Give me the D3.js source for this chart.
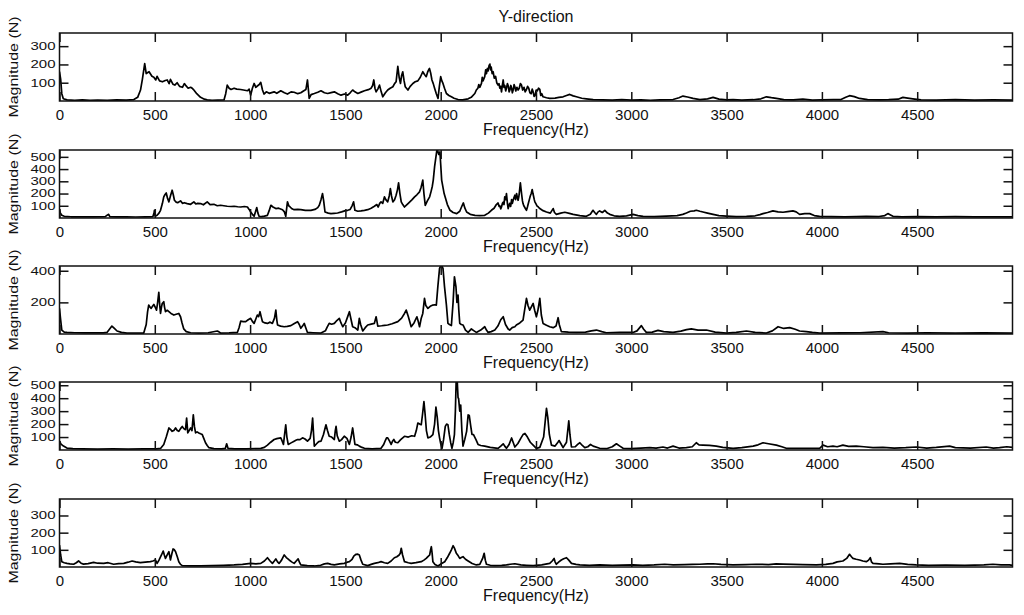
<!DOCTYPE html>
<html>
<head>
<meta charset="utf-8">
<script src="https://cdn.jsdelivr.net/npm/d3@7"></script>
<style>
  html, body { margin: 0; padding: 0; background: #ffffff; }
  svg { display: block; }
  text { font-family: "Liberation Sans", Arial, sans-serif; fill: #111; }
</style>
</head>
<body>
<svg id="chart" width="1024" height="615"></svg>
<script>
// ---------- DATA ----------
const chartTitle = "Y-direction";
const xLabel = "Frequency(Hz)";
const yLabel = "Magnitude (N)";
const xTicks = [0, 500, 1000, 1500, 2000, 2500, 3000, 3500, 4000, 4500];
const xMax = 5000;

const yTicks1 = [100, 200, 300];
const yTicks2 = [100, 200, 300, 400, 500];
const yTicks3 = [200, 400];
const yTicks4 = [100, 200, 300, 400, 500];
const yTicks5 = [100, 200, 300];

const yMax1 = 372, yMax2 = 556, yMax3 = 430, yMax4 = 525, yMax5 = 396;

// [frequency (Hz), magnitude (N)]
const spectrum1 = [[0,160],[6,120],[12,40],[20,12],[40,6],[80,4],[120,6],[160,4],[200,5],[250,4],[300,6],[350,5],[390,8],[410,20],[425,60],[435,120],[447,205],[455,150],[470,160],[485,135],[495,130],[505,115],[512,135],[525,110],[540,105],[555,112],[565,115],[575,95],[582,118],[595,92],[605,87],[617,100],[630,80],[645,75],[655,95],[661,87],[675,70],[688,75],[698,68],[705,60],[720,40],[740,20],[760,10],[775,6],[800,4],[830,5],[863,6],[872,40],[880,87],[890,70],[900,63],[916,70],[930,65],[950,63],[965,60],[986,56],[995,65],[1003,32],[1012,70],[1021,96],[1030,75],[1038,82],[1048,90],[1056,102],[1065,60],[1073,38],[1085,50],[1100,42],[1126,50],[1140,42],[1161,56],[1180,45],[1196,38],[1215,50],[1231,48],[1250,40],[1266,45],[1280,55],[1293,63],[1301,115],[1306,60],[1310,14],[1320,35],[1337,41],[1355,48],[1372,56],[1390,45],[1407,41],[1425,46],[1442,50],[1460,40],[1477,32],[1495,38],[1512,32],[1525,45],[1538,60],[1550,50],[1565,41],[1585,50],[1600,56],[1620,62],[1635,70],[1643,85],[1649,115],[1655,70],[1661,50],[1670,65],[1679,87],[1688,50],[1696,23],[1710,45],[1722,60],[1735,70],[1749,78],[1758,95],[1766,105],[1775,190],[1782,130],[1789,96],[1795,140],[1801,160],[1808,110],[1814,78],[1828,60],[1840,80],[1854,96],[1866,105],[1880,110],[1893,130],[1906,160],[1915,145],[1924,133],[1932,160],[1941,178],[1948,150],[1954,115],[1961,95],[1968,70],[1977,40],[1986,14],[1993,80],[2000,133],[2006,110],[2012,96],[2020,70],[2030,41],[2043,30],[2056,23],[2070,15],[2091,8],[2115,6],[2144,12],[2160,20],[2179,41],[2187,60],[2195,70],[2200,90],[2205,75],[2214,96],[2218,130],[2222,110],[2231,133],[2236,170],[2240,150],[2245,178],[2249,165],[2254,195],[2258,202],[2262,170],[2265,185],[2270,150],[2275,160],[2281,125],[2288,135],[2294,100],[2301,87],[2306,95],[2310,70],[2315,80],[2319,50],[2324,90],[2328,115],[2332,75],[2336,85],[2341,55],[2345,70],[2350,95],[2355,80],[2359,50],[2363,60],[2368,85],[2372,70],[2376,45],[2380,60],[2385,90],[2389,78],[2394,55],[2400,75],[2406,60],[2412,70],[2418,95],[2424,87],[2430,60],[2437,75],[2443,50],[2450,63],[2456,80],[2462,70],[2468,45],[2475,40],[2480,65],[2485,50],[2490,25],[2495,30],[2501,60],[2507,55],[2513,70],[2520,63],[2525,30],[2530,40],[2537,23],[2555,18],[2572,14],[2600,16],[2620,20],[2642,23],[2660,30],[2677,36],[2695,28],[2712,23],[2740,15],[2764,12],[2800,8],[2850,6],[2900,5],[2950,7],[3000,5],[3050,6],[3100,4],[3150,6],[3219,8],[3250,18],[3271,27],[3295,22],[3324,14],[3360,8],[3400,12],[3429,20],[3460,10],[3500,6],[3534,8],[3580,5],[3640,7],[3680,12],[3709,23],[3735,18],[3761,14],[3800,8],[3850,6],[3900,10],[3950,5],[4000,6],[4060,7],[4100,8],[4125,20],[4145,29],[4170,24],[4197,14],[4240,8],[4300,6],[4350,7],[4400,10],[4425,20],[4450,16],[4477,12],[4520,6],[4600,5],[4700,7],[4800,5],[4900,6],[5000,5]];

const spectrum2 = [[0,63],[5,40],[12,22],[25,14],[60,10],[120,9],[180,10],[240,11],[252,25],[258,30],[264,12],[300,9],[350,10],[400,8],[450,10],[490,12],[496,40],[498,63],[502,15],[512,22],[522,40],[530,63],[540,120],[547,173],[553,190],[560,205],[567,160],[574,132],[582,180],[591,227],[597,190],[603,145],[612,130],[620,125],[635,140],[645,120],[655,125],[670,118],[688,112],[705,132],[715,115],[725,120],[740,118],[755,108],[775,132],[790,110],[810,112],[828,100],[845,104],[862,100],[880,96],[900,94],[916,96],[935,92],[951,90],[970,94],[986,90],[995,70],[1003,49],[1012,30],[1021,14],[1028,50],[1035,85],[1041,40],[1047,14],[1060,12],[1075,15],[1091,22],[1100,60],[1109,104],[1120,90],[1135,77],[1150,80],[1170,68],[1180,50],[1187,14],[1192,80],[1196,132],[1203,100],[1210,90],[1220,75],[1231,68],[1250,70],[1266,68],[1290,62],[1319,63],[1340,70],[1355,85],[1363,104],[1372,150],[1380,200],[1386,140],[1393,49],[1410,40],[1424,36],[1440,38],[1459,41],[1480,50],[1500,60],[1512,63],[1525,70],[1535,100],[1543,132],[1550,63],[1565,55],[1582,58],[1600,62],[1617,68],[1635,80],[1652,96],[1665,110],[1672,90],[1680,120],[1687,132],[1696,120],[1705,173],[1712,150],[1722,132],[1730,180],[1736,241],[1742,180],[1749,132],[1758,150],[1766,186],[1773,230],[1779,288],[1786,200],[1793,132],[1801,110],[1810,90],[1820,105],[1830,120],[1838,132],[1850,150],[1863,173],[1875,190],[1889,214],[1897,250],[1906,310],[1912,200],[1919,104],[1930,140],[1942,173],[1950,220],[1956,260],[1961,310],[1968,420],[1975,500],[1980,556],[1983,556],[1990,520],[1996,540],[2000,440],[2005,310],[2012,250],[2018,200],[2023,173],[2035,110],[2049,63],[2065,45],[2084,36],[2100,55],[2112,100],[2119,123],[2127,80],[2136,49],[2155,30],[2180,22],[2205,20],[2231,22],[2250,40],[2266,63],[2280,80],[2292,110],[2301,123],[2306,95],[2310,100],[2315,75],[2319,90],[2324,120],[2328,130],[2332,110],[2336,173],[2341,150],[2345,200],[2350,120],[2354,77],[2358,100],[2362,120],[2367,95],[2372,150],[2376,120],[2380,145],[2385,170],[2389,186],[2393,150],[2398,200],[2402,170],[2406,145],[2410,175],[2412,200],[2418,288],[2422,230],[2425,190],[2429,140],[2432,118],[2436,100],[2440,90],[2445,75],[2450,63],[2455,90],[2460,120],[2465,150],[2470,180],[2475,200],[2480,233],[2484,200],[2487,180],[2491,150],[2494,132],[2500,115],[2505,100],[2512,90],[2520,77],[2537,60],[2555,49],[2575,40],[2590,77],[2597,45],[2607,30],[2630,40],[2651,47],[2675,38],[2695,30],[2730,20],[2764,14],[2785,30],[2799,63],[2808,45],[2817,30],[2826,50],[2834,58],[2848,45],[2861,63],[2875,40],[2887,30],[2910,18],[2939,14],[2975,18],[3009,30],[3035,20],[3062,14],[3120,12],[3184,16],[3240,20],[3270,30],[3289,41],[3310,55],[3330,58],[3341,63],[3360,55],[3376,49],[3400,40],[3429,30],[3460,20],[3499,16],[3550,12],[3604,14],[3650,18],[3675,28],[3691,36],[3715,45],[3743,58],[3770,50],[3796,47],[3820,52],[3848,58],[3865,50],[3883,30],[3910,35],[3936,36],[3960,20],[3988,14],[4050,12],[4120,10],[4180,12],[4233,14],[4300,12],[4330,20],[4346,36],[4360,25],[4373,14],[4420,10],[4500,12],[4600,10],[4700,11],[4800,9],[4900,10],[5000,9]];

const spectrum3 = [[0,162],[5,100],[12,25],[25,12],[39,10],[80,8],[130,7],[180,8],[230,7],[249,10],[262,30],[275,50],[288,35],[302,19],[325,10],[354,6],[400,6],[442,6],[455,60],[462,140],[468,183],[475,170],[481,162],[488,175],[495,187],[502,170],[509,151],[515,200],[521,263],[526,180],[530,130],[535,170],[539,193],[547,204],[551,170],[556,141],[565,150],[574,141],[585,130],[600,120],[612,125],[626,130],[630,120],[635,109],[643,70],[652,32],[665,15],[688,8],[730,6],[780,8],[828,19],[838,12],[845,6],[890,7],[933,10],[942,40],[951,82],[963,78],[977,78],[990,90],[1003,99],[1012,80],[1021,67],[1030,95],[1038,120],[1045,110],[1052,141],[1058,110],[1065,78],[1078,70],[1091,67],[1105,75],[1117,67],[1128,100],[1135,151],[1140,90],[1144,57],[1160,50],[1179,46],[1195,48],[1214,53],[1230,65],[1249,78],[1258,60],[1266,36],[1275,50],[1284,67],[1292,40],[1301,10],[1330,8],[1372,6],[1395,20],[1405,45],[1415,67],[1428,62],[1442,67],[1455,85],[1468,99],[1477,70],[1486,46],[1500,70],[1512,110],[1521,141],[1530,90],[1538,46],[1550,40],[1565,25],[1573,99],[1580,60],[1591,19],[1604,40],[1617,57],[1635,62],[1652,67],[1661,109],[1667,70],[1670,50],[1690,52],[1705,55],[1722,57],[1745,65],[1775,78],[1795,100],[1810,130],[1819,151],[1830,110],[1845,46],[1860,70],[1875,109],[1882,80],[1889,46],[1898,100],[1906,130],[1915,225],[1922,180],[1933,162],[1945,175],[1959,183],[1968,185],[1977,183],[1985,300],[1994,415],[2000,430],[2006,430],[2012,415],[2020,300],[2030,183],[2038,67],[2046,60],[2056,53],[2065,200],[2072,362],[2080,300],[2085,200],[2091,246],[2095,150],[2100,67],[2108,60],[2117,57],[2130,25],[2144,10],[2161,32],[2175,20],[2187,10],[2210,25],[2231,46],[2240,25],[2249,10],[2265,15],[2284,25],[2300,50],[2315,90],[2328,109],[2340,60],[2354,32],[2362,25],[2375,40],[2389,46],[2397,57],[2415,70],[2432,88],[2440,150],[2450,225],[2458,180],[2467,151],[2475,170],[2485,193],[2493,150],[2502,109],[2510,150],[2520,225],[2528,120],[2537,67],[2555,55],[2572,46],[2590,40],[2605,50],[2616,103],[2622,60],[2633,15],[2670,12],[2712,10],[2760,12],[2790,20],[2817,25],[2845,15],[2869,8],[2940,10],[3009,10],[3030,20],[3053,53],[3065,30],[3079,10],[3110,12],[3140,23],[3170,15],[3219,10],[3260,18],[3290,28],[3315,32],[3350,25],[3394,25],[3440,12],[3499,6],[3550,10],[3604,19],[3650,10],[3709,6],[3740,20],[3770,46],[3800,35],[3831,40],[3860,30],[3883,19],[3918,15],[3950,10],[3988,6],[4100,7],[4200,8],[4320,15],[4350,8],[4450,6],[4550,8],[4700,5],[4850,7],[5000,5]];

const spectrum4 = [[0,68],[8,45],[21,30],[39,15],[70,10],[120,8],[200,7],[280,8],[360,7],[440,8],[510,8],[530,12],[547,43],[560,100],[574,170],[582,160],[591,144],[600,150],[609,170],[618,150],[626,144],[635,165],[644,182],[652,165],[661,157],[667,246],[673,132],[680,150],[688,170],[695,150],[702,271],[708,180],[714,132],[722,140],[731,132],[740,125],[749,119],[757,90],[766,56],[775,35],[784,18],[810,10],[850,8],[870,12],[877,48],[884,13],[920,8],[980,9],[1056,13],[1075,20],[1091,38],[1108,60],[1126,81],[1140,88],[1161,94],[1168,70],[1175,43],[1181,120],[1187,195],[1193,100],[1200,43],[1215,55],[1231,68],[1240,75],[1249,81],[1262,80],[1275,94],[1288,85],[1301,68],[1315,90],[1322,150],[1328,246],[1333,120],[1337,30],[1350,50],[1360,65],[1372,68],[1385,120],[1398,195],[1406,150],[1415,106],[1428,100],[1442,81],[1447,150],[1451,182],[1457,110],[1468,68],[1480,80],[1494,106],[1508,90],[1521,43],[1530,100],[1538,170],[1544,110],[1550,43],[1562,40],[1573,30],[1587,20],[1600,13],[1640,8],[1687,13],[1700,40],[1710,75],[1716,93],[1722,94],[1731,70],[1740,43],[1748,70],[1754,81],[1762,60],[1775,56],[1790,80],[1810,106],[1830,100],[1848,110],[1863,106],[1872,150],[1880,208],[1890,200],[1898,195],[1905,280],[1912,373],[1918,280],[1925,150],[1933,94],[1945,100],[1959,119],[1968,200],[1975,332],[1982,250],[1988,150],[1994,94],[2000,50],[2007,13],[2015,80],[2024,182],[2031,200],[2038,195],[2045,120],[2052,60],[2059,13],[2066,60],[2072,119],[2077,300],[2081,525],[2087,525],[2091,403],[2094,397],[2100,300],[2105,347],[2111,150],[2117,30],[2126,80],[2136,144],[2144,271],[2150,266],[2158,180],[2164,120],[2172,119],[2185,80],[2196,43],[2210,35],[2231,30],[2260,20],[2301,13],[2315,30],[2328,48],[2336,30],[2345,13],[2358,40],[2372,93],[2380,60],[2389,23],[2405,50],[2420,90],[2432,119],[2442,128],[2455,100],[2470,60],[2485,38],[2502,13],[2520,20],[2540,100],[2555,322],[2562,250],[2570,120],[2581,38],[2600,30],[2615,60],[2621,73],[2630,50],[2642,18],[2660,60],[2672,225],[2678,120],[2686,23],[2705,25],[2720,45],[2730,56],[2743,35],[2756,18],[2772,25],[2786,43],[2800,30],[2834,13],[2870,10],[2900,25],[2922,48],[2940,30],[2957,13],[3000,10],[3050,14],[3097,18],[3130,15],[3166,23],[3190,15],[3219,30],[3250,15],[3289,18],[3320,25],[3341,56],[3355,40],[3376,38],[3410,35],[3446,30],[3480,20],[3534,13],[3580,18],[3639,30],[3665,40],[3691,56],[3720,48],[3761,38],[3790,25],[3813,13],[3880,12],[3950,13],[3988,13],[4006,38],[4030,25],[4058,30],[4080,25],[4110,38],[4140,28],[4180,30],[4220,25],[4268,18],[4320,20],[4380,15],[4440,18],[4495,23],[4550,15],[4600,20],[4670,30],[4700,18],[4780,15],[4862,23],[4900,15],[4932,18],[4970,25],[5000,20]];

const spectrum5 = [[0,128],[6,70],[12,31],[25,25],[39,21],[55,18],[74,16],[88,25],[100,35],[113,22],[126,17],[150,20],[179,27],[200,22],[232,21],[255,25],[284,16],[310,20],[337,21],[360,28],[381,35],[400,30],[424,25],[450,28],[477,31],[490,35],[503,41],[512,21],[522,40],[535,70],[544,93],[550,70],[556,50],[565,70],[574,89],[582,41],[590,80],[596,105],[603,100],[609,89],[618,60],[626,31],[635,15],[644,8],[680,6],[740,6],[800,8],[860,10],[916,12],[960,15],[1003,21],[1030,18],[1056,21],[1075,35],[1091,54],[1105,35],[1117,21],[1127,35],[1135,47],[1144,30],[1152,21],[1165,40],[1179,70],[1190,55],[1205,41],[1218,30],[1231,21],[1242,35],[1252,47],[1260,25],[1266,12],[1300,8],[1337,6],[1370,10],[1390,18],[1407,21],[1425,15],[1442,12],[1470,18],[1494,21],[1510,28],[1521,31],[1535,45],[1545,65],[1556,74],[1565,75],[1573,70],[1582,40],[1591,16],[1617,8],[1635,15],[1652,21],[1670,25],[1687,31],[1705,25],[1722,21],[1740,35],[1757,54],[1770,60],[1782,70],[1788,80],[1793,109],[1800,70],[1810,31],[1830,25],[1845,21],[1870,25],[1898,31],[1912,40],[1924,50],[1933,60],[1942,70],[1947,100],[1951,118],[1955,80],[1959,31],[1970,15],[1986,6],[2005,20],[2021,31],[2035,55],[2047,80],[2056,100],[2065,124],[2072,110],[2082,80],[2092,65],[2100,50],[2108,55],[2117,60],[2130,45],[2144,35],[2165,20],[2187,12],[2205,15],[2220,50],[2228,80],[2234,40],[2240,16],[2260,10],[2284,8],[2320,10],[2345,12],[2365,16],[2389,19],[2420,12],[2450,10],[2485,8],[2530,12],[2572,21],[2585,35],[2595,50],[2600,30],[2607,16],[2620,30],[2633,41],[2645,48],[2660,54],[2672,40],[2686,21],[2710,15],[2730,12],[2780,10],[2834,12],[2900,10],[2950,11],[3009,12],[3060,10],[3120,12],[3175,16],[3220,12],[3280,14],[3320,15],[3359,16],[3400,18],[3429,19],[3470,15],[3534,12],[3600,14],[3656,16],[3720,14],[3760,18],[3796,17],[3850,15],[3900,14],[3971,12],[4020,15],[4058,21],[4080,30],[4110,35],[4130,50],[4145,74],[4155,60],[4163,50],[4180,45],[4198,41],[4215,35],[4233,31],[4245,40],[4254,54],[4260,30],[4268,21],[4300,18],[4320,16],[4360,18],[4408,21],[4450,15],[4495,12],[4560,10],[4650,11],[4750,10],[4850,12],[4897,16],[4940,12],[4984,12],[5000,10]];

// ---------- LAYOUT ----------
const svg = d3.select("#chart");
const left = 59.5, right = 1012.5;
const panelTops = [33, 150, 266, 382, 499];
const panelH = 68;

const panels = [
  { data: spectrum1, yMax: yMax1, ticks: yTicks1 },
  { data: spectrum2, yMax: yMax2, ticks: yTicks2 },
  { data: spectrum3, yMax: yMax3, ticks: yTicks3 },
  { data: spectrum4, yMax: yMax4, ticks: yTicks4 },
  { data: spectrum5, yMax: yMax5, ticks: yTicks5 }
];

const x = d3.scaleLinear().domain([0, xMax]).range([left, right]);

svg.append("text")
  .attr("x", 536).attr("y", 22)
  .attr("text-anchor", "middle")
  .style("font-size", "16px")
  .text(chartTitle);

panels.forEach((p, i) => {
  const top = panelTops[i], bottom = top + panelH;
  const y = d3.scaleLinear().domain([0, p.yMax]).range([bottom, top]);
  const g = svg.append("g");

  const clipId = "clip" + i;
  svg.append("clipPath").attr("id", clipId)
    .append("rect").attr("x", left).attr("y", top)
    .attr("width", right - left).attr("height", panelH);

  const line = d3.line().x(d => x(d[0])).y(d => y(d[1]));
  g.append("path")
    .datum(p.data)
    .attr("clip-path", `url(#${clipId})`)
    .attr("d", line)
    .attr("fill", "none")
    .attr("stroke", "#000")
    .attr("stroke-width", 1.7)
    .attr("stroke-linejoin", "round");

  const gb = g.append("g").attr("transform", `translate(0,${bottom})`)
    .call(d3.axisBottom(x).tickValues(xTicks).tickSize(-9).tickPadding(8).tickFormat(d3.format("d")));
  const gt = g.append("g").attr("transform", `translate(0,${top})`)
    .call(d3.axisTop(x).tickValues(xTicks).tickSize(-9).tickFormat(""));
  const gl = g.append("g").attr("transform", `translate(${left},0)`)
    .call(d3.axisLeft(y).tickValues(p.ticks).tickSize(-9).tickPadding(4).tickFormat(d3.format("d")));
  const gr = g.append("g").attr("transform", `translate(${right},0)`)
    .call(d3.axisRight(y).tickValues(p.ticks).tickSize(-9).tickFormat(""));

  [gb, gt, gl, gr].forEach(a => {
    a.select(".domain").remove();
    a.selectAll(".tick line").attr("stroke", "#111").attr("stroke-width", 1.5);
    a.selectAll(".tick text")
      .style("font-family", '"Liberation Sans", Arial, sans-serif')
      .style("font-size", "15px").attr("fill", "#111");
  });
  // y tick labels are vertically condensed in the reference
  gl.selectAll(".tick text").attr("transform", "scale(1,0.72)");

  g.append("rect")
    .attr("x", left).attr("y", top)
    .attr("width", right - left).attr("height", panelH)
    .attr("fill", "none").attr("stroke", "#111").attr("stroke-width", 1.5);

  g.append("text")
    .attr("x", 536).attr("y", bottom + 34)
    .attr("text-anchor", "middle")
    .style("font-size", "16px")
    .text(xLabel);

  g.append("text")
    .attr("transform", `translate(18,${top + panelH / 2}) rotate(-90) scale(1,0.85)`)
    .attr("text-anchor", "middle")
    .style("font-size", "16px")
    .text(yLabel);
});
</script>
</body>
</html>
